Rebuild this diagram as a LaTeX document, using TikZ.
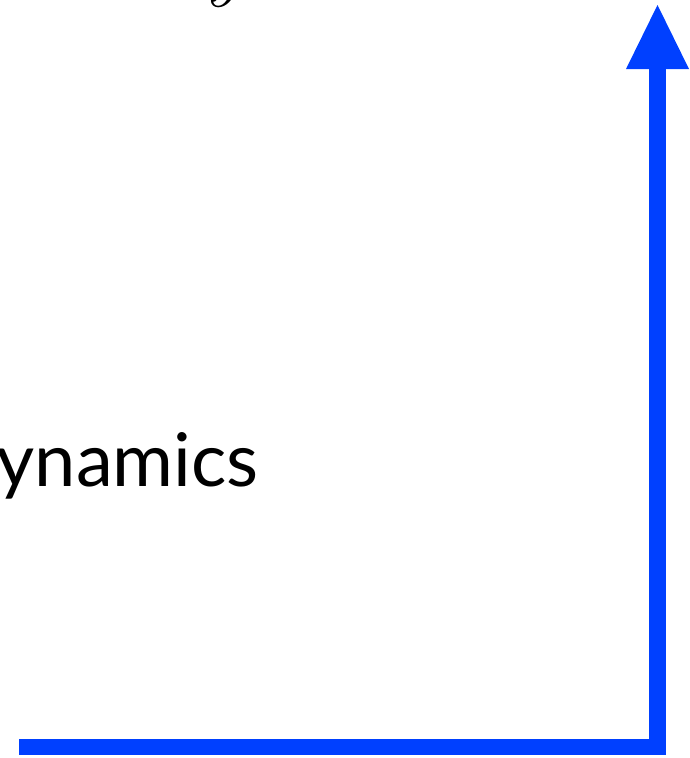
\documentclass[tikz,border=0pt]{standalone}
\usepackage{fontspec}
\setmainfont{Lato}
\newfontfamily\lmfont{Latin Modern Roman}
\definecolor{axisblue}{RGB}{0,64,255}
\begin{document}
\begin{tikzpicture}[x=1pt,y=-1pt,
  axisfill/.style={fill=axisblue,draw=none},
  label/.style={inner sep=0pt,font=\fontsize{74}{80}\selectfont}]
\useasboundingbox (0,0) rectangle (689,758);
\clip (0,0) rectangle (689,758);
\coordinate (origin) at (657.5,747);
\coordinate (xstart) at (19,747);
\coordinate (ytop) at (657.5,69);
\coordinate (tip) at (657.5,5);
% horizontal axis
\fill[axisfill] (19,739) rectangle (666,755);
% vertical axis shaft
\fill[axisfill] (649,755) rectangle (666,68);
% arrowhead
\fill[axisfill] (tip) -- (689,69) -- (626,69) -- cycle;
% label
\node[label,anchor=base east] (dyn) at (259,486) {Dynamics};
% glyph fragment at top
\node[inner sep=0pt,anchor=base,font=\fontsize{80}{80}\lmfont\itshape] (top) at (222,-9) {y};
\end{tikzpicture}
\end{document}
